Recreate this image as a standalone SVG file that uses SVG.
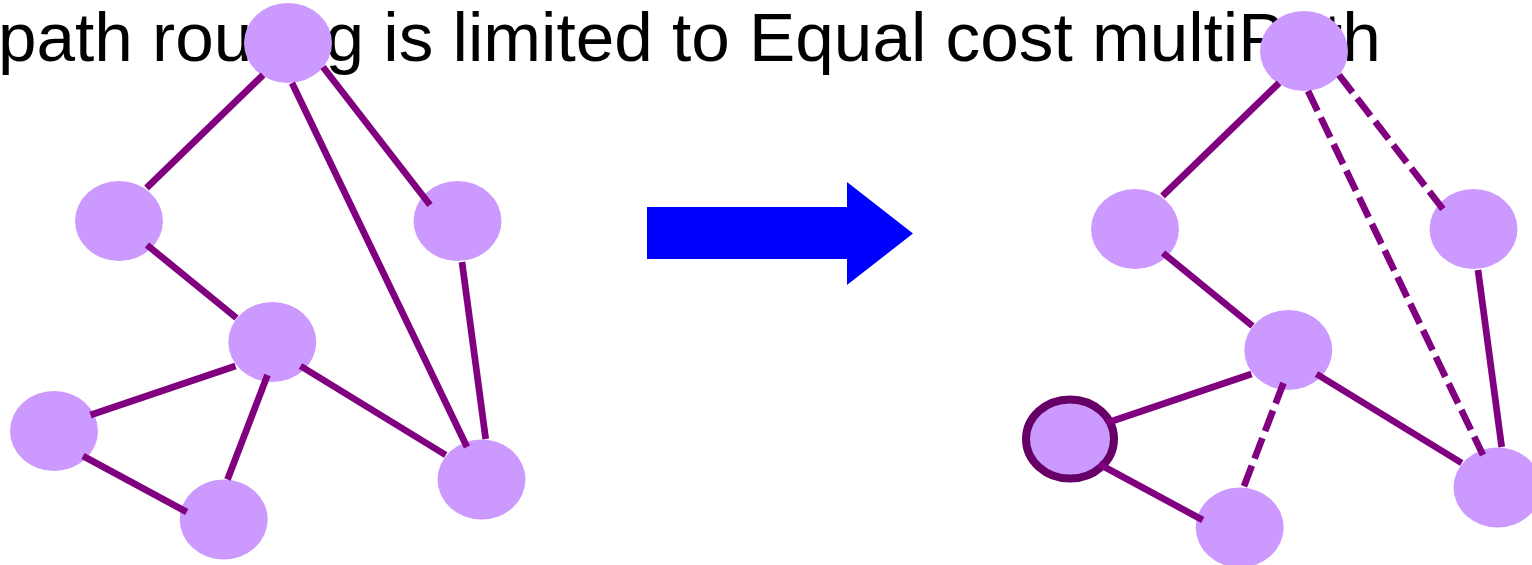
<svg xmlns="http://www.w3.org/2000/svg" width="1532" height="565" viewBox="0 0 1532 565">
  <style>
    .node { fill: #CC99FF; }
    .edge { stroke: #800080; stroke-width: 6.7; fill: none; stroke-linecap: butt; }
    .dash { stroke-dasharray: 22 7.5; }
    .title { font-family: "Liberation Sans", Arial, sans-serif; font-size: 69.3px; fill: #000000; }
  </style>
  <rect width="1532" height="565" fill="#FFFFFF"/>
  <text class="title" x="-2" y="61">path routing is limited to Equal cost multiPath</text>

  <g id="left-graph">
    <ellipse id="L-T" class="node" cx="288" cy="43" rx="44" ry="40"/>
    <ellipse id="L-A" class="node" cx="119" cy="221" rx="44" ry="40"/>
    <ellipse id="L-B" class="node" cx="457.5" cy="221" rx="44" ry="40"/>
    <ellipse id="L-C" class="node" cx="272.3" cy="342" rx="44" ry="40"/>
    <ellipse id="L-D" class="node" cx="54" cy="431" rx="44" ry="40"/>
    <ellipse id="L-E" class="node" cx="223.7" cy="519.5" rx="44" ry="40"/>
    <ellipse id="L-F" class="node" cx="481.5" cy="479.5" rx="44" ry="40"/>
  </g>

  <g id="left-connectors">
    <line class="edge" x1="263" y1="75" x2="146.5" y2="188"/>
    <line class="edge" x1="323" y1="67" x2="430" y2="205"/>
    <line class="edge" x1="292" y1="83" x2="467" y2="447"/>
    <line class="edge" x1="462" y1="262" x2="485.7" y2="439"/>
    <line class="edge" x1="300.5" y1="366" x2="445.7" y2="455"/>
    <line class="edge" x1="147" y1="245" x2="236.5" y2="318"/>
    <line class="edge" x1="235.5" y1="366" x2="90.5" y2="415"/>
    <line class="edge" x1="267.5" y1="375" x2="227.5" y2="479.5"/>
    <line class="edge" x1="83" y1="456" x2="186.7" y2="512"/>
  </g>

  <g id="arrow">
    <polygon points="647,207 847,207 847,182 913,233.5 847,285 847,259 647,259" fill="#0000FF"/>
  </g>

  <g id="right-graph">
    <ellipse id="R-T" class="node" cx="1304" cy="51" rx="44" ry="40"/>
    <ellipse id="R-A" class="node" cx="1135" cy="229" rx="44" ry="40"/>
    <ellipse id="R-B" class="node" cx="1473.5" cy="229" rx="44" ry="40"/>
    <ellipse id="R-C" class="node" cx="1288.3" cy="350" rx="44" ry="40"/>
    <ellipse id="R-D" class="node" cx="1070" cy="439" rx="44" ry="39.5" stroke="#660066" stroke-width="8"/>
    <ellipse id="R-E" class="node" cx="1239.7" cy="527.5" rx="44" ry="40"/>
    <ellipse id="R-F" class="node" cx="1497.5" cy="487.5" rx="44" ry="40"/>
  </g>

  <g id="right-connectors">
    <line class="edge" x1="1279" y1="83" x2="1162.5" y2="196"/>
    <line class="edge dash" x1="1339" y1="75" x2="1446" y2="213"/>
    <line class="edge dash" x1="1308" y1="91" x2="1483" y2="455"/>
    <line class="edge" x1="1478" y1="270" x2="1501.7" y2="447"/>
    <line class="edge" x1="1316.5" y1="374" x2="1461.7" y2="463"/>
    <line class="edge" x1="1163" y1="253" x2="1252.5" y2="326"/>
    <line class="edge" x1="1251.5" y1="374" x2="1106.5" y2="423"/>
    <line class="edge dash" x1="1283.5" y1="383" x2="1243.5" y2="487.5"/>
    <line class="edge" x1="1099" y1="464" x2="1202.7" y2="520"/>
  </g>
</svg>
